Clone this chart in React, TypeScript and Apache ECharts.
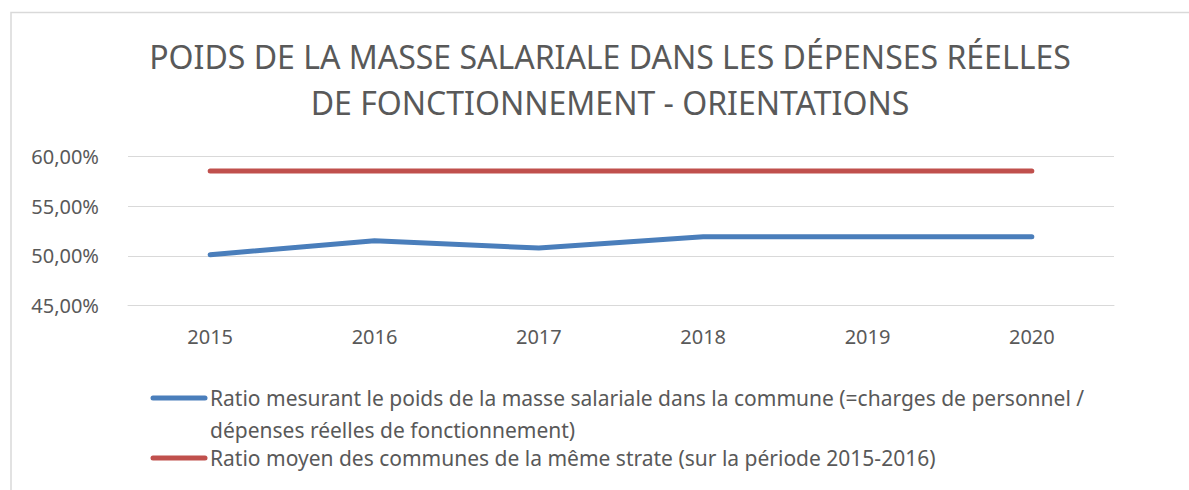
import React, { useEffect, useRef } from "react";
import * as echarts from "echarts";

const categories = ["2015", "2016", "2017", "2018", "2019", "2020"];
const communeRatio = [50.1, 51.52, 50.78, 51.92, 51.92, 51.92];
const strateRatio = [58.56, 58.56, 58.56, 58.56, 58.56, 58.56];
const seriesNames = [
  "Ratio mesurant le poids de la masse salariale dans la commune (=charges de personnel / dépenses réelles de fonctionnement)",
  "Ratio moyen des communes de la même strate (sur la période 2015-2016)",
];
const legendLines = [
  "Ratio mesurant le poids de la masse salariale dans la commune (=charges de personnel /",
  "dépenses réelles de fonctionnement)",
  "Ratio moyen des communes de la même strate (sur la période 2015-2016)",
];
const titleText = "POIDS DE LA MASSE SALARIALE DANS LES DÉPENSES RÉELLES\nDE FONCTIONNEMENT - ORIENTATIONS";

const FONT = "'Noto Sans', sans-serif";
const GREY = "#595959";
const BLUE = "#4a7ebb";
const RED = "#c0504d";

export default function App() {
  const ref = useRef<HTMLDivElement>(null);
  useEffect(() => {
    const chart = echarts.init(ref.current!, undefined, { renderer: "svg" });
    chart.setOption({
      animation: false,
      backgroundColor: "#ffffff",
      title: {
        text: titleText,
        left: 610,
        top: 33,
        padding: 0,
        textAlign: "center",
        textStyle: {
          fontFamily: FONT,
          fontSize: 32,
          fontWeight: "normal",
          color: GREY,
          lineHeight: 46,
        },
      },
      grid: { left: 128, right: 75, top: 156.7, bottom: 184.7, containLabel: false },
      xAxis: {
        type: "category",
        data: categories,
        boundaryGap: true,
        axisLine: { show: true, lineStyle: { color: "#d9d9d9", width: 1 } },
        axisTick: { show: false },
        axisLabel: { color: GREY, fontFamily: FONT, fontSize: 20, margin: 21 },
      },
      yAxis: {
        type: "value",
        min: 45,
        max: 60,
        interval: 5,
        axisLine: { show: false },
        axisTick: { show: false },
        splitLine: { lineStyle: { color: "#d9d9d9", width: 1 } },
        axisLabel: {
          color: GREY,
          fontFamily: FONT,
          fontSize: 20,
          margin: 29,
          formatter: (v: number) => v.toFixed(2).replace(".", ",") + "%",
        },
      },
      series: [
        {
          name: seriesNames[0],
          type: "line",
          data: communeRatio,
          symbol: "none",
          lineStyle: { color: BLUE, width: 5, cap: "round", join: "round" },
          itemStyle: { color: BLUE },
        },
        {
          name: seriesNames[1],
          type: "line",
          data: strateRatio,
          symbol: "none",
          lineStyle: { color: RED, width: 5, cap: "round", join: "round" },
          itemStyle: { color: RED },
        },
      ],
      graphic: [
        {
          type: "rect",
          shape: { x: 11, y: 12.5, width: 1185, height: 485 },
          style: { fill: "none", stroke: "#d9d9d9", lineWidth: 1.5 },
          silent: true,
        },
        {
          type: "line",
          shape: { x1: 153, y1: 398, x2: 205, y2: 398 },
          style: { stroke: BLUE, lineWidth: 5, lineCap: "round" },
        },
        {
          type: "line",
          shape: { x1: 153, y1: 458, x2: 205, y2: 458 },
          style: { stroke: RED, lineWidth: 5, lineCap: "round" },
        },
        {
          type: "text",
          x: 210,
          y: 398,
          style: { text: legendLines[0], font: `21px ${FONT}`, fill: GREY, verticalAlign: "middle" },
        },
        {
          type: "text",
          x: 210,
          y: 430,
          style: { text: legendLines[1], font: `21px ${FONT}`, fill: GREY, verticalAlign: "middle" },
        },
        {
          type: "text",
          x: 210,
          y: 458,
          style: { text: legendLines[2], font: `21px ${FONT}`, fill: GREY, verticalAlign: "middle" },
        },
      ],
    });
    return () => chart.dispose();
  }, []);
  return (
    <div
      ref={ref}
      style={{ position: "fixed", left: 0, top: 0, width: 1189, height: 490 }}
    />
  );
}
